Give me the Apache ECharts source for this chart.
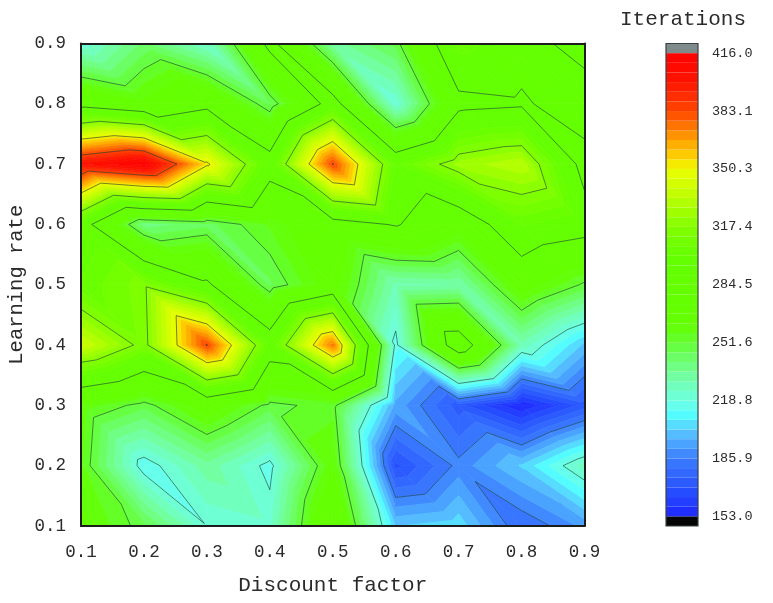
<!DOCTYPE html>
<html>
<head>
<meta charset="utf-8">
<style>html,body{margin:0;padding:0;background:#fff}#c{width:773px;height:603px}</style>
<script src="https://cdn.jsdelivr.net/npm/echarts@6/dist/echarts.min.js"></script>
</head>
<body>
<div id="c"></div>
<script>
// Discount factor (columns) and learning rate (rows, top to bottom)
var discountFactors = [0.1, 0.2, 0.3, 0.4, 0.5, 0.6, 0.7, 0.8, 0.9];
var learningRates = [0.9, 0.8, 0.7, 0.6, 0.5, 0.4, 0.3, 0.2, 0.1];
var row09 = [220, 242, 223, 291, 232, 248, 305, 292, 277];
var row08 = [277, 265, 278, 245, 294, 220, 279, 282, 295];
var row07 = [402, 416, 353, 295, 384, 300, 325, 333, 277];
var row06 = [294, 238, 244, 258, 275, 286, 268, 302, 294];
var row05 = [302, 315, 288, 245, 268, 228, 230, 269, 250];
var row04 = [340, 313, 384, 298, 374, 216, 301, 228, 201];
var row03 = [261, 248, 269, 249, 255, 195, 172, 153, 172];
var row02 = [258, 214, 233, 216, 263, 168, 188, 203, 227];
var row01 = [265, 248, 219, 223, 280, 202, 206, 180, 193];
var iterationRows = [row09, row08, row07, row06, row05, row04, row03, row02, row01];
var scaleLabels = [153.0, 185.9, 218.8, 251.6, 284.5, 317.4, 350.3, 383.1, 416.0];
var scaleMin = 153, scaleMax = 416, bandCount = 48;

var colourStops = [
  [153, 30, 40, 255], [170, 40, 85, 255], [186, 60, 125, 255], [200, 85, 190, 255],
  [211, 85, 255, 255], [219, 110, 255, 225], [235, 115, 255, 150], [252, 100, 255, 50],
  [262, 100, 255, 0], [300, 100, 255, 0], [317, 130, 255, 0], [335, 190, 255, 0],
  [350, 235, 255, 0], [356, 255, 215, 0], [366, 255, 165, 0], [383, 255, 70, 0],
  [400, 255, 20, 0], [416, 255, 0, 0]
];
function colourOf(v) {
  for (var i = 1; i < colourStops.length; i++) {
    var a = colourStops[i - 1], b = colourStops[i];
    if (v <= b[0]) {
      var t = (v - a[0]) / (b[0] - a[0]);
      return 'rgb(' + [1, 2, 3].map(function (k) { return Math.round(a[k] + (b[k] - a[k]) * t); }).join(',') + ')';
    }
  }
  return 'rgb(255,0,0)';
}
var bandStep = (scaleMax - scaleMin) / bandCount;
var bands = [];
for (var b = 0; b < bandCount; b++) {
  var lo = scaleMin + b * bandStep, hi = lo + bandStep;
  bands.push({ lo: lo, hi: hi, color: colourOf((lo + hi) / 2) });
}
var scaleBands = [{ lo: scaleMin - bandStep, hi: scaleMin, color: '#050505' }]
  .concat(bands)
  .concat([{ lo: scaleMax, hi: scaleMax + bandStep, color: '#7f8a8a' }]);

// Triangulate the grid, diagonal from top-left to bottom-right in every cell
var triangles = [];
for (var r = 0; r < learningRates.length - 1; r++) {
  for (var c = 0; c < discountFactors.length - 1; c++) {
    var TL = [discountFactors[c], learningRates[r], iterationRows[r][c]];
    var TR = [discountFactors[c + 1], learningRates[r], iterationRows[r][c + 1]];
    var BL = [discountFactors[c], learningRates[r + 1], iterationRows[r + 1][c]];
    var BR = [discountFactors[c + 1], learningRates[r + 1], iterationRows[r + 1][c + 1]];
    triangles.push([TL, TR, BR], [TL, BL, BR]);
  }
}
function cross(p, q, level) {
  var t = (level - p[2]) / (q[2] - p[2]);
  return [p[0] + (q[0] - p[0]) * t, p[1] + (q[1] - p[1]) * t, level];
}
function clip(poly, level, keepAbove) {
  var out = [];
  for (var i = 0; i < poly.length; i++) {
    var p = poly[i], q = poly[(i + 1) % poly.length];
    var pin = keepAbove ? p[2] >= level : p[2] <= level;
    var qin = keepAbove ? q[2] >= level : q[2] <= level;
    if (pin) out.push(p);
    if (pin !== qin) out.push(cross(p, q, level));
  }
  return out;
}
var polygons = [];
triangles.forEach(function (tri) {
  bands.forEach(function (band) {
    var poly = clip(clip(tri, band.lo, true), band.hi, false);
    if (poly.length >= 3) polygons.push({ pts: poly, color: band.color });
  });
});
var segments = [];
scaleLabels.slice(1, -1).forEach(function (level) {
  triangles.forEach(function (tri) {
    var pts = [];
    for (var i = 0; i < 3; i++) {
      var p = tri[i], q = tri[(i + 1) % 3];
      if ((p[2] < level) !== (q[2] < level)) pts.push(cross(p, q, level));
    }
    if (pts.length === 2) segments.push(pts);
  });
});

var font = '"Liberation Mono", "DejaVu Sans Mono", monospace';
var textColour = '#2b2b2b';
var frame = { show: true, onZero: false, lineStyle: { color: '#1c1c1c', width: 2 } };

var option = {
  animation: false,
  backgroundColor: '#fff',
  title: {
    text: 'Iterations', left: 620, top: 9, padding: 0,
    textStyle: { fontFamily: font, fontSize: 21, fontWeight: 'normal', color: textColour }
  },
  grid: [
    { left: 81, top: 43.5, width: 503.5, height: 482.5, outerBoundsMode: 'none' },
    { left: 666, top: 43.5, width: 32, height: 482.5, outerBoundsMode: 'none' }
  ],
  xAxis: [
    {
      gridIndex: 0, type: 'value', min: 0.1, max: 0.9, interval: 0.1, z: 5,
      name: 'Discount factor', nameLocation: 'middle', nameGap: 49, nameMoveOverlap: false,
      nameTextStyle: { fontFamily: font, fontSize: 21, color: textColour },
      axisLine: frame, axisTick: { show: false }, splitLine: { show: false },
      axisLabel: { margin: 17, fontFamily: font, fontSize: 17.5, color: textColour,
        showMinLabel: true, showMaxLabel: true,
        formatter: function (v) { return v.toFixed(1); } }
    },
    {
      gridIndex: 0, type: 'value', position: 'top', min: 0.1, max: 0.9, interval: 0.1, z: 5,
      axisLine: frame, axisTick: { show: false }, axisLabel: { show: false }, splitLine: { show: false }
    },
    {
      gridIndex: 1, type: 'value', min: 0, max: 1, show: false
    }
  ],
  yAxis: [
    {
      gridIndex: 0, type: 'value', min: 0.1, max: 0.9, interval: 0.1, z: 5,
      name: 'Learning rate', nameLocation: 'middle', nameGap: 54, nameMoveOverlap: false,
      nameTextStyle: { fontFamily: font, fontSize: 20.5, color: textColour },
      axisLine: frame, axisTick: { show: false }, splitLine: { show: false },
      axisLabel: { margin: 15, fontFamily: font, fontSize: 17.5, color: textColour,
        showMinLabel: true, showMaxLabel: true,
        formatter: function (v) { return v.toFixed(1); } }
    },
    {
      gridIndex: 0, type: 'value', position: 'right', min: 0.1, max: 0.9, interval: 0.1, z: 5,
      axisLine: frame, axisTick: { show: false }, axisLabel: { show: false }, splitLine: { show: false }
    },
    {
      gridIndex: 1, type: 'value', position: 'right',
      min: scaleMin - bandStep, max: scaleMax + bandStep, z: 5,
      axisLine: { show: false }, axisTick: { show: false }, splitLine: { show: false },
      axisLabel: { margin: 14, fontFamily: font, fontSize: 13.5, color: textColour,
        customValues: scaleLabels,
        formatter: function (v) { return v.toFixed(1); } }
    }
  ],
  series: [
    {
      type: 'custom', xAxisIndex: 0, yAxisIndex: 0, coordinateSystem: 'cartesian2d', silent: true, z: 2, clip: true,
      data: polygons.map(function (p, i) { return [p.pts[0][0], p.pts[0][1], i]; }),
      renderItem: function (params, api) {
        var p = polygons[params.dataIndex];
        return {
          type: 'polygon',
          shape: { points: p.pts.map(function (q) { return api.coord([q[0], q[1]]); }) },
          style: { fill: p.color, stroke: p.color, lineWidth: 0.7 }
        };
      }
    },
    {
      type: 'custom', xAxisIndex: 0, yAxisIndex: 0, coordinateSystem: 'cartesian2d', silent: true, z: 3, clip: true,
      data: segments.map(function (s, i) { return [s[0][0], s[0][1], i]; }),
      renderItem: function (params, api) {
        var s = segments[params.dataIndex];
        var a = api.coord([s[0][0], s[0][1]]), d = api.coord([s[1][0], s[1][1]]);
        return {
          type: 'line',
          shape: { x1: a[0], y1: a[1], x2: d[0], y2: d[1] },
          style: { stroke: 'rgba(25,60,50,0.75)', lineWidth: 0.8, fill: null }
        };
      }
    },
    {
      type: 'custom', xAxisIndex: 2, yAxisIndex: 2, coordinateSystem: 'cartesian2d', silent: true, z: 2,
      data: scaleBands.map(function (b) { return [0, b.lo, b.hi]; }),
      renderItem: function (params, api) {
        var b = scaleBands[params.dataIndex];
        var a = api.coord([0, b.hi]), d = api.coord([1, b.lo]);
        return {
          type: 'rect',
          shape: { x: a[0], y: a[1], width: d[0] - a[0], height: d[1] - a[1] },
          style: { fill: b.color, stroke: null }
        };
      }
    }
  ],
  graphic: [{
    type: 'rect', z: 10, silent: true,
    shape: { x: 666, y: 43.5, width: 32, height: 482.5 },
    style: { fill: null, stroke: '#3a4242', lineWidth: 1.2 }
  }]
};
echarts.init(document.getElementById('c'), null, { renderer: 'canvas' }).setOption(option);
</script>
</body>
</html>
